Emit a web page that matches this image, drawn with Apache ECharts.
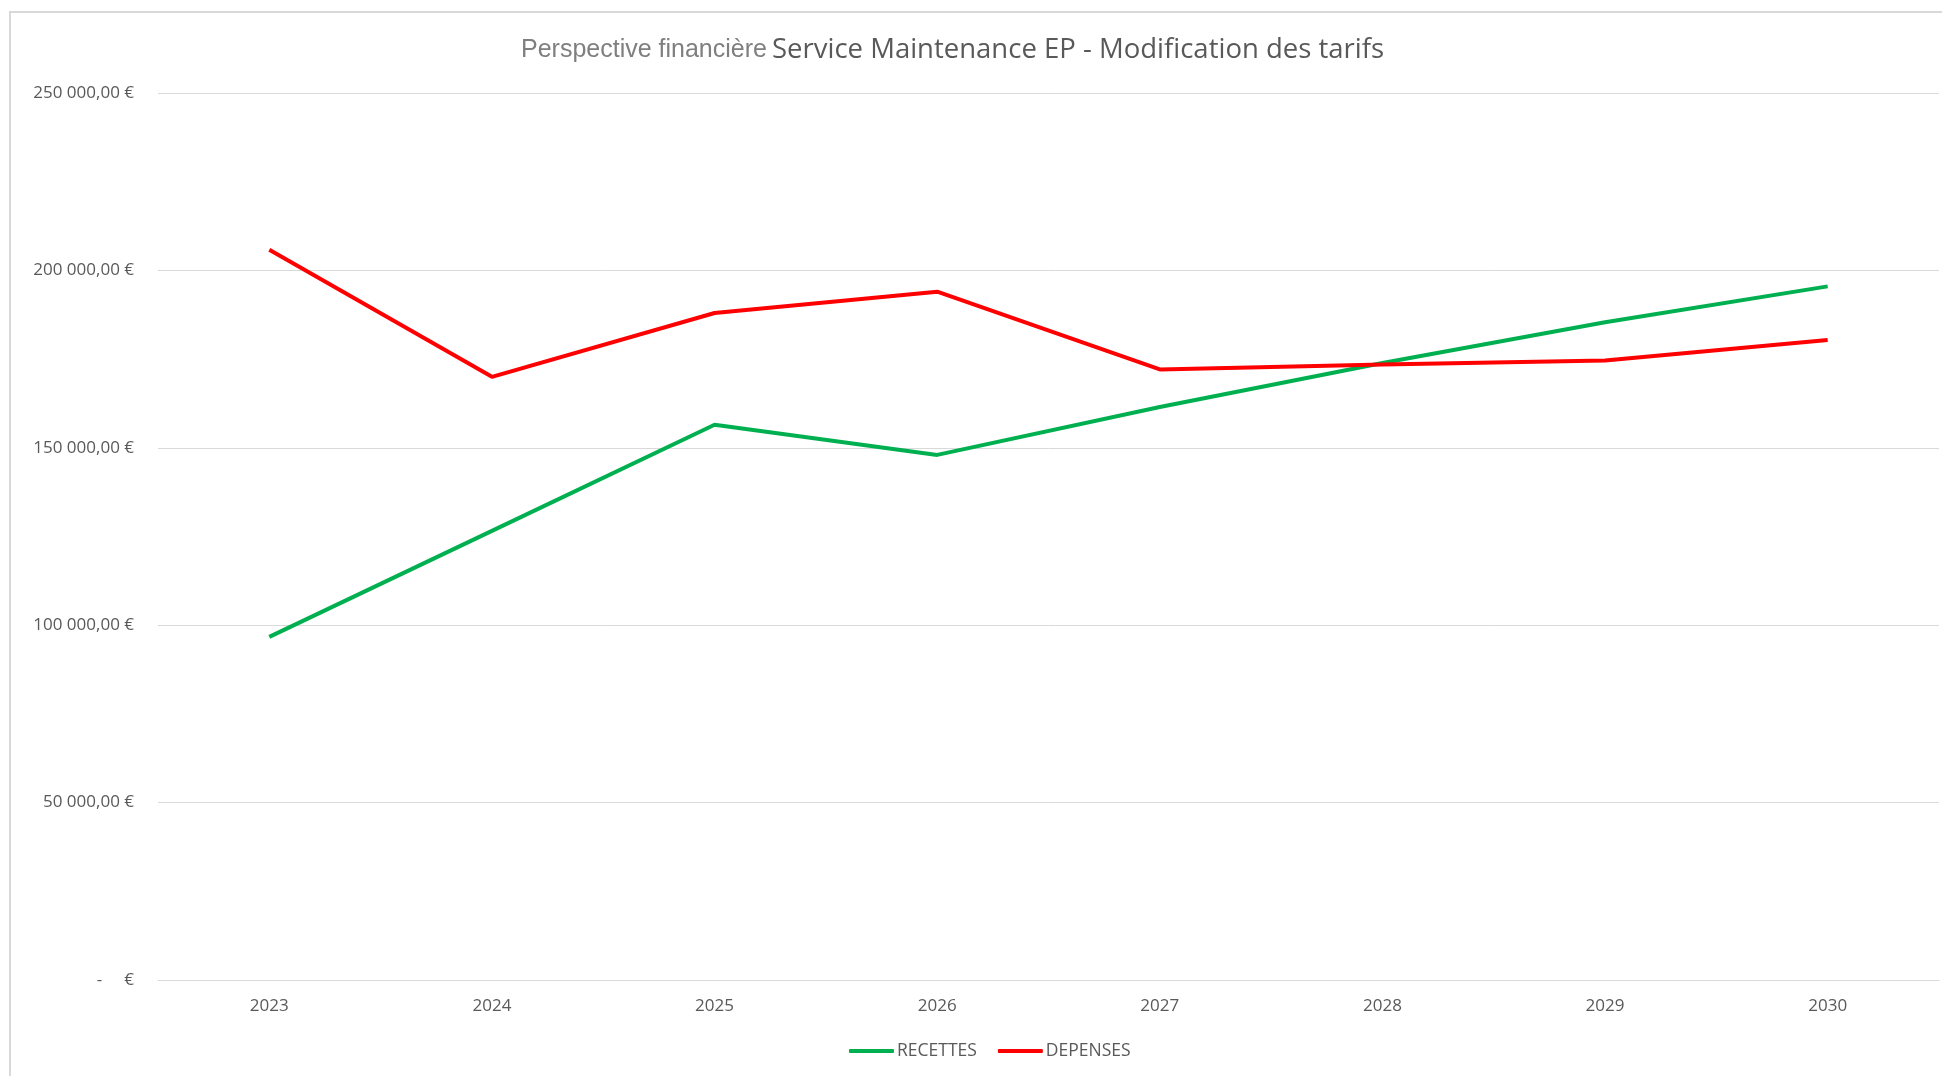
<!DOCTYPE html>
<html>
<head>
<meta charset="utf-8">
<script src="https://cdn.jsdelivr.net/npm/echarts@6/dist/echarts.min.js"></script>
<style>
	html, body {margin: 0; padding: 0; background: #fff;}
	#main {width: 1942px; height: 1076px;}
	#frame {position: absolute; left: 9px; top: 11px; width: 2100px; height: 1200px; border: 2px solid #d9d9d9; pointer-events: none;}
</style>
</head>
<body>
<div id="main"></div>
<div id="frame"></div>
<script>
const years = ['2023', '2024', '2025', '2026', '2027', '2028', '2029', '2030'];
const recettes = [96700, 126600, 156500, 148000, 161500, 173900, 185400, 195500];
const depenses = [205800, 170000, 188000, 194000, 172100, 173500, 174600, 180400];

function euro(v) {
	if (v === 0) return '-     €';
	let s = Math.round(v).toString().replace(/\B(?=(\d{3})+(?!\d))/g, ' ');
	return s + ',00 €';
}

let myChart = echarts.init(document.getElementById('main'));
let font = 'Open Sans';
let option = {
	backgroundColor: '#fff',
	title: {
		text: '{a|Perspective financière} {b|Service Maintenance EP - Modification des tarifs}',
		left: 516,
		top: 31,
		textStyle: {
			rich: {
				a: {fontFamily: 'Liberation Sans', fontWeight: 'normal', fontSize: 25, color: '#7f7f7f'},
				b: {fontFamily: font, fontWeight: 'normal', fontSize: 27.5, color: '#595959'}
			}
		}
	},
	grid: {left: 158, right: 3, top: 93, bottom: 96, containLabel: false},
	legend: {
		bottom: 11,
		left: 844,
		itemWidth: 45,
		itemHeight: 4,
		itemGap: 21,
		icon: 'roundRect',
		textStyle: {fontFamily: font, fontSize: 17.5, color: '#595959', padding: [0, 0, 0, -2]},
		data: ['RECETTES', 'DEPENSES']
	},
	xAxis: {
		type: 'category',
		data: years,
		boundaryGap: true,
		axisLine: {lineStyle: {color: '#d9d9d9', width: 1}},
		axisTick: {show: false},
		axisLabel: {fontFamily: font, fontSize: 17, color: '#595959', margin: 18}
	},
	yAxis: {
		type: 'value',
		min: 0,
		max: 250000,
		interval: 50000,
		axisLine: {show: false},
		axisTick: {show: false},
		splitLine: {lineStyle: {color: '#d9d9d9', width: 1}},
		axisLabel: {fontFamily: font, fontSize: 17, color: '#595959', margin: 24, formatter: euro}
	},
	series: [
		{
			name: 'RECETTES',
			type: 'line',
			data: recettes,
			symbol: 'none',
			color: '#00b050',
			lineStyle: {width: 4, color: '#00b050'}
		},
		{
			name: 'DEPENSES',
			type: 'line',
			data: depenses,
			symbol: 'none',
			color: '#ff0000',
			lineStyle: {width: 4, color: '#ff0000'}
		}
	]
};
myChart.setOption(option);
</script>
</body>
</html>
